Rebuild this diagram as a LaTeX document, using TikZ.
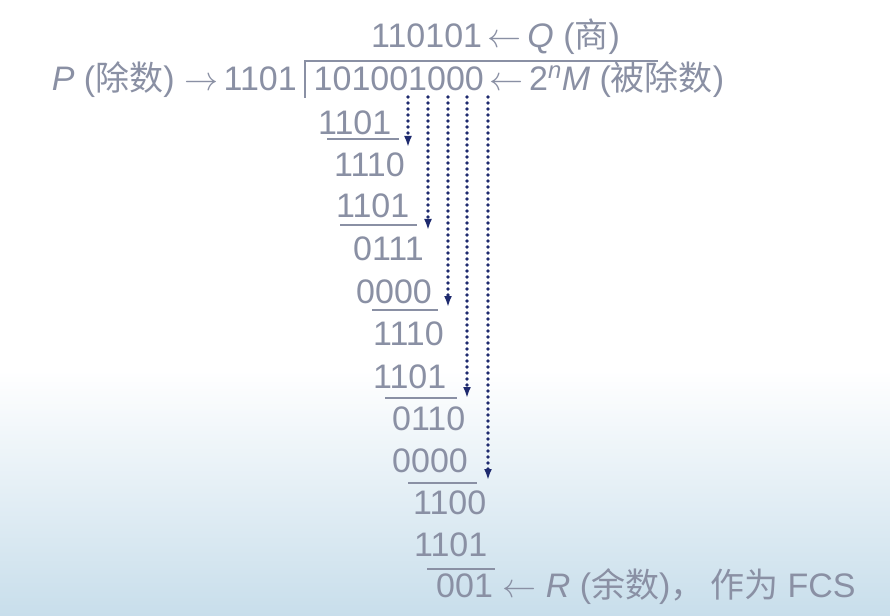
\RequirePackage{fix-cm}
\documentclass[tikz,border=0pt]{standalone}
\usepackage{fontspec}
\setmainfont{Liberation Sans}
\newfontfamily\cjk{Noto Sans CJK SC}
\usetikzlibrary{arrows.meta, calc}
\definecolor{digitgray}{HTML}{8A90A4}
\definecolor{bringnavy}{HTML}{1E2A6E}
\definecolor{skyfade}{HTML}{C8DEEB}
\tikzset{
  numrow/.style={anchor=base west, inner sep=0pt, text=digitgray, font=\fontsize{34bp}{40bp}\selectfont},
  numrowr/.style={numrow, anchor=base east},
  subline/.style={draw=digitgray, line width=2.2bp},
  bracket/.style={draw=digitgray, line width=2.6bp},
  bring/.style={draw=bringnavy, line width=3.6bp, line cap=round, dash pattern=on 0bp off 6bp, -{Latex[length=11bp,width=8bp]}}
}

\begin{document}
\begin{tikzpicture}[x=1bp, y=-1bp]
  % page and sky
  \useasboundingbox (0,0) rectangle (890,616);
  \fill[white] (0,0) rectangle (890,616);
  \shade[top color=white, bottom color=skyfade] (0,370) rectangle (890,616);

  % head of the division
  \node[numrow] at (371,48) (quot)
    {110101\,$\leftarrow$\,\textit{Q} ({\cjk 商})};
  \node[numrowr] at (297,91) (divsr)
    {\textit{P} ({\cjk 除数}) $\rightarrow$\,1101};
  \node[numrow] at (313.5,91) (divd)
    {101001000\,$\leftarrow$\,2\textsuperscript{\textit{n}}\textit{M} ({\cjk 被除数})};
  \draw[bracket] (658,61) -- (305,61) -- (305,98);

  % steps
  \node[numrow] at (318,135) (s1) {1101};
  \node[numrow] at (334,177) (p1) {1110};
  \node[numrow] at (336,218) (s2) {1101};
  \node[numrow] at (353,261) (p2) {0111};
  \node[numrow] at (356,303) (s3) {0000};
  \node[numrow] at (373,345) (p3) {1110};
  \node[numrow] at (373,388) (s4) {1101};
  \node[numrow] at (392,430) (p4) {0110};
  \node[numrow] at (392,472) (s5) {0000};
  \node[numrow] at (413,514) (p5) {1100};
  \node[numrow] at (414,556) (s6) {1101};
  \node[numrow] at (436,597) (rem)
    {001 $\leftarrow$ \textit{R} ({\cjk 余数}){\cjk ，}\,{\cjk 作为} FCS};

  \draw[subline] (327,139) -- (399,139);
  \draw[subline] (340,225) -- (417,225);
  \draw[subline] (372,310) -- (438,310);
  \draw[subline] (385,398) -- (457,398);
  \draw[subline] (408,483) -- (477,483);
  \draw[subline] (427,569) -- (495,569);

  % bring-down arrows
  \coordinate (d5) at (408,97);
  \coordinate (d6) at (428,97);
  \coordinate (d7) at (448,97);
  \coordinate (d8) at (467,97);
  \coordinate (d9) at (488,97);
  \coordinate (e5) at (408,147);
  \coordinate (e6) at (428,230);
  \coordinate (e7) at (448,307);
  \coordinate (e8) at (467,398);
  \coordinate (e9) at (488,480);
  \draw[bring] (d5) -- (e5);
  \draw[bring] (d6) -- (e6);
  \draw[bring] (d7) -- (e7);
  \draw[bring] (d8) -- (e8);
  \draw[bring] (d9) -- (e9);
\end{tikzpicture}
\end{document}
